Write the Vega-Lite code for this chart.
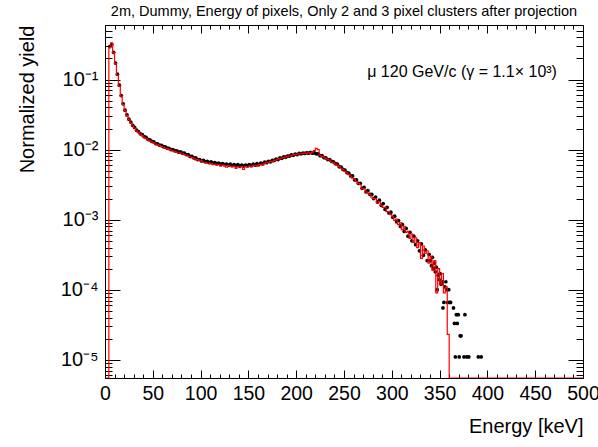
{
  "$schema": "https://vega.github.io/schema/vega-lite/v6.json",
  "width": 478,
  "height": 353,
  "autosize": "none",
  "padding": {"left": 105, "top": 25, "right": 15, "bottom": 69},
  "background": "white",
  "config": {
    "font": "Liberation Sans",
    "view": {"stroke": "black", "strokeWidth": 1},
    "axis": {"labelFont": "Liberation Sans", "titleFont": "Liberation Sans", "labelColor": "black", "titleColor": "black", "tickColor": "black", "tickWidth": 1, "domain": false, "grid": false, "labelOverlap": false, "labelFlush": false, "labelBound": false, "titleFontWeight": "normal"}
  },
  "title": {"text": "2m, Dummy, Energy of pixels, Only 2 and 3 pixel clusters after projection", "font": "Liberation Sans", "fontSize": 14.5, "fontWeight": "normal", "color": "black", "anchor": "middle", "frame": "group", "offset": 5},
  "resolve": {"axis": {"x": "independent", "y": "independent"}},
  "datasets": {
    "black": [
      {"e":5,"v":0.295},{"e":7,"v":0.315},{"e":9,"v":0.245},{"e":11,"v":0.172},{"e":13,"v":0.119},{"e":15,"v":0.083},{"e":17,"v":0.059},{"e":19,"v":0.045},
      {"e":21,"v":0.0365},{"e":23,"v":0.0312},{"e":25,"v":0.0272},{"e":27,"v":0.0247},{"e":29,"v":0.0222},{"e":31,"v":0.0207},{"e":33,"v":0.0189},{"e":35,"v":0.018},
      {"e":37,"v":0.0168},{"e":39,"v":0.0163},{"e":41,"v":0.0153},{"e":43,"v":0.0149},{"e":45,"v":0.014},{"e":47,"v":0.0138},{"e":49,"v":0.0131},{"e":51,"v":0.0129},
      {"e":53,"v":0.0122},{"e":55,"v":0.0121},{"e":57,"v":0.0116},{"e":59,"v":0.0115},{"e":61,"v":0.011},{"e":63,"v":0.0109},{"e":65,"v":0.0105},{"e":67,"v":0.0104},
      {"e":69,"v":0.01},{"e":71,"v":0.01},{"e":73,"v":0.0096},{"e":75,"v":0.0096},{"e":77,"v":0.0092},{"e":79,"v":0.0093},{"e":81,"v":0.0089},{"e":83,"v":0.0089},
      {"e":85,"v":0.0085},{"e":87,"v":0.0085},{"e":89,"v":0.008},{"e":91,"v":0.008},{"e":93,"v":0.0076},{"e":95,"v":0.0076},{"e":97,"v":0.0072},{"e":99,"v":0.0072},
      {"e":101,"v":0.0069},{"e":103,"v":0.007},{"e":105,"v":0.0067},{"e":107,"v":0.0068},{"e":109,"v":0.0065},{"e":111,"v":0.0067},{"e":113,"v":0.0064},{"e":115,"v":0.0065},
      {"e":117,"v":0.0063},{"e":119,"v":0.0064},{"e":121,"v":0.0062},{"e":123,"v":0.0063},{"e":125,"v":0.0061},{"e":127,"v":0.0062},{"e":129,"v":0.006},{"e":131,"v":0.0062},
      {"e":133,"v":0.0059},{"e":135,"v":0.0061},{"e":137,"v":0.0059},{"e":139,"v":0.0061},{"e":141,"v":0.0058},{"e":143,"v":0.006},{"e":145,"v":0.0058},{"e":147,"v":0.006},
      {"e":149,"v":0.0059},{"e":151,"v":0.0061},{"e":153,"v":0.0059},{"e":155,"v":0.0062},{"e":157,"v":0.006},{"e":159,"v":0.0063},{"e":161,"v":0.0061},{"e":163,"v":0.0064},
      {"e":165,"v":0.0063},{"e":167,"v":0.0066},{"e":169,"v":0.0065},{"e":171,"v":0.0068},{"e":173,"v":0.0067},{"e":175,"v":0.007},{"e":177,"v":0.007},{"e":179,"v":0.0073},
      {"e":181,"v":0.0072},{"e":183,"v":0.0076},{"e":185,"v":0.0075},{"e":187,"v":0.0079},{"e":189,"v":0.0078},{"e":191,"v":0.0081},{"e":193,"v":0.0081},{"e":195,"v":0.0084},
      {"e":197,"v":0.0083},{"e":199,"v":0.0086},{"e":201,"v":0.0085},{"e":203,"v":0.0088},{"e":205,"v":0.0087},{"e":207,"v":0.0089},{"e":209,"v":0.0088},{"e":211,"v":0.009},
      {"e":213,"v":0.0089},{"e":215,"v":0.0091},{"e":217,"v":0.0089},{"e":219,"v":0.009},{"e":221,"v":0.0087},{"e":223,"v":0.0087},{"e":225,"v":0.0082},{"e":227,"v":0.0082},
      {"e":229,"v":0.0077},{"e":231,"v":0.0076},{"e":233,"v":0.0072},{"e":235,"v":0.0072},{"e":237,"v":0.0068},{"e":239,"v":0.0067},{"e":241,"v":0.0063},{"e":243,"v":0.0062},
      {"e":245,"v":0.0057},{"e":247,"v":0.0056},{"e":249,"v":0.0052},{"e":251,"v":0.0051},{"e":253,"v":0.0047},{"e":255,"v":0.0046},{"e":257,"v":0.0042},{"e":259,"v":0.0042},
      {"e":261,"v":0.0037},{"e":263,"v":0.0037},{"e":265,"v":0.0033},{"e":267,"v":0.0033},{"e":269,"v":0.0028},{"e":271,"v":0.0029},{"e":273,"v":0.0025},{"e":275,"v":0.0026},
      {"e":277,"v":0.0023},{"e":279,"v":0.0023},{"e":281,"v":0.002},{"e":283,"v":0.0021},{"e":285,"v":0.0018},{"e":287,"v":0.0019},{"e":289,"v":0.0016},{"e":291,"v":0.0017},
      {"e":293,"v":0.0014},{"e":295,"v":0.0015},{"e":297,"v":0.00125},{"e":299,"v":0.00128},{"e":301,"v":0.00108},{"e":303,"v":0.00112},{"e":305,"v":0.00093},{"e":307,"v":0.00097},
      {"e":309,"v":0.0008},{"e":311,"v":0.00086},{"e":313,"v":0.00068},{"e":315,"v":0.00075},{"e":317,"v":0.00058},{"e":319,"v":0.00066},{"e":321,"v":0.0005},{"e":323,"v":0.00058},
      {"e":325,"v":0.00044},{"e":327,"v":0.0005},{"e":329,"v":0.00036},{"e":331,"v":0.00045},{"e":333,"v":0.00031},{"e":335,"v":0.00037},{"e":337,"v":0.00026},{"e":339,"v":0.00032}
    ],
    "tail": [
      {"e":340.5,"v":0.00026},{"e":341.5,"v":0.00022},{"e":342.5,"v":0.00029},{"e":343.5,"v":0.0002},{"e":344.5,"v":0.00024},{"e":345.5,"v":0.00018},{"e":346.5,"v":0.00021},
      {"e":347.5,"v":0.0001},{"e":348.5,"v":0.00016},{"e":349.5,"v":0.00014},{"e":350.5,"v":0.00017},{"e":351.5,"v":0.00012},{"e":352.5,"v":0.00013},{"e":353.5,"v":0.000055},
      {"e":354.5,"v":0.000066},{"e":355.5,"v":0.00011},{"e":356.5,"v":0.00013},{"e":357.5,"v":0.0001},{"e":358.5,"v":0.000066},{"e":359.5,"v":0.0001},{"e":360.5,"v":0.000066},
      {"e":361.5,"v":0.000066},{"e":364.5,"v":0.000055},{"e":365.5,"v":0.000033},{"e":366.5,"v":0.000011},{"e":367.5,"v":0.000044},{"e":368.5,"v":0.000033},{"e":369.5,"v":0.000044},
      {"e":370.5,"v":0.000011},{"e":371.5,"v":0.000022},{"e":372.5,"v":0.000022},{"e":375.5,"v":0.000011},{"e":376.5,"v":0.000044},{"e":378.5,"v":0.000011},{"e":380.5,"v":0.000011},
      {"e":390.5,"v":0.000011},{"e":393.5,"v":0.000011}
    ],
    "red": [
      {"e":0,"v":0.0000055},{"e":2,"v":0.0000055},{"e":4,"v":0.285},{"e":6,"v":0.335},{"e":8,"v":0.24},{"e":10,"v":0.168},{"e":12,"v":0.116},{"e":14,"v":0.081},
      {"e":16,"v":0.058},{"e":18,"v":0.044},{"e":20,"v":0.036},{"e":22,"v":0.0305},{"e":24,"v":0.027},{"e":26,"v":0.024},{"e":28,"v":0.0218},{"e":30,"v":0.0202},
      {"e":32,"v":0.0186},{"e":34,"v":0.0176},{"e":36,"v":0.0166},{"e":38,"v":0.0158},{"e":40,"v":0.015},{"e":42,"v":0.0143},{"e":44,"v":0.0138},{"e":46,"v":0.0133},
      {"e":48,"v":0.0128},{"e":50,"v":0.0125},{"e":52,"v":0.012},{"e":54,"v":0.0117},{"e":56,"v":0.0114},{"e":58,"v":0.011},{"e":60,"v":0.0108},{"e":62,"v":0.0105},
      {"e":64,"v":0.0103},{"e":66,"v":0.01},{"e":68,"v":0.0098},{"e":70,"v":0.0096},{"e":72,"v":0.0094},{"e":74,"v":0.0092},{"e":76,"v":0.009},{"e":78,"v":0.0089},
      {"e":80,"v":0.0087},{"e":82,"v":0.0085},{"e":84,"v":0.0083},{"e":86,"v":0.0081},{"e":88,"v":0.0079},{"e":90,"v":0.0077},{"e":92,"v":0.0075},{"e":94,"v":0.0071},
      {"e":96,"v":0.0072},{"e":98,"v":0.007},{"e":100,"v":0.0069},{"e":102,"v":0.0066},{"e":104,"v":0.0066},{"e":106,"v":0.0064},{"e":108,"v":0.0064},{"e":110,"v":0.0063},
      {"e":112,"v":0.0061},{"e":114,"v":0.0062},{"e":116,"v":0.006},{"e":118,"v":0.0061},{"e":120,"v":0.0058},{"e":122,"v":0.006},{"e":124,"v":0.0059},{"e":126,"v":0.0056},
      {"e":128,"v":0.0059},{"e":130,"v":0.0058},{"e":132,"v":0.0057},{"e":134,"v":0.0058},{"e":136,"v":0.0054},{"e":138,"v":0.0057},{"e":140,"v":0.0056},{"e":142,"v":0.0057},
      {"e":144,"v":0.0052},{"e":146,"v":0.0057},{"e":148,"v":0.0056},{"e":150,"v":0.0058},{"e":152,"v":0.0057},{"e":154,"v":0.0059},{"e":156,"v":0.0059},{"e":158,"v":0.0058},
      {"e":160,"v":0.0061},{"e":162,"v":0.0062},{"e":164,"v":0.006},{"e":166,"v":0.0064},{"e":168,"v":0.0065},{"e":170,"v":0.0066},{"e":172,"v":0.0068},{"e":174,"v":0.0067},
      {"e":176,"v":0.007},{"e":178,"v":0.0071},{"e":180,"v":0.0073},{"e":182,"v":0.0074},{"e":184,"v":0.0076},{"e":186,"v":0.0077},{"e":188,"v":0.0078},{"e":190,"v":0.008},
      {"e":192,"v":0.0081},{"e":194,"v":0.0082},{"e":196,"v":0.0084},{"e":198,"v":0.0085},{"e":200,"v":0.0086},{"e":202,"v":0.0087},{"e":204,"v":0.0087},{"e":206,"v":0.0088},
      {"e":208,"v":0.0089},{"e":210,"v":0.0088},{"e":212,"v":0.009},{"e":214,"v":0.0089},{"e":216,"v":0.0092},{"e":218,"v":0.0097},{"e":220,"v":0.0104},{"e":222,"v":0.01},
      {"e":224,"v":0.0083},{"e":226,"v":0.008},{"e":228,"v":0.0078},{"e":230,"v":0.0075},{"e":232,"v":0.0072},{"e":234,"v":0.0071},{"e":236,"v":0.0067},{"e":238,"v":0.0066},
      {"e":240,"v":0.0062},{"e":242,"v":0.006},{"e":244,"v":0.0057},{"e":246,"v":0.0054},{"e":248,"v":0.0052},{"e":250,"v":0.0049},{"e":252,"v":0.0047},{"e":254,"v":0.0044},
      {"e":256,"v":0.0042},{"e":258,"v":0.0039},{"e":260,"v":0.0038},{"e":262,"v":0.0035},{"e":264,"v":0.0033},{"e":266,"v":0.0032},{"e":268,"v":0.0028},{"e":270,"v":0.0028},
      {"e":272,"v":0.0025},{"e":274,"v":0.0024},{"e":276,"v":0.0023},{"e":278,"v":0.0021},{"e":280,"v":0.002},{"e":282,"v":0.002},{"e":284,"v":0.0017},{"e":286,"v":0.0018},
      {"e":288,"v":0.0016},{"e":290,"v":0.0015},{"e":292,"v":0.0015},{"e":294,"v":0.0013},{"e":296,"v":0.0013},{"e":298,"v":0.00118},{"e":300,"v":0.0011},{"e":302,"v":0.00098},
      {"e":304,"v":0.00102},{"e":306,"v":0.00085},{"e":308,"v":0.0009},{"e":310,"v":0.00072},{"e":312,"v":0.0008},{"e":314,"v":0.00066},{"e":316,"v":0.00068},{"e":318,"v":0.00054},
      {"e":320,"v":0.00062},{"e":322,"v":0.00047},{"e":324,"v":0.00055},{"e":326,"v":0.0004},{"e":328,"v":0.00047},{"e":330,"v":0.00028},{"e":332,"v":0.00042},{"e":334,"v":0.00033},
      {"e":336,"v":0.00036},{"e":338,"v":0.00024},{"e":340,"v":0.0003},{"e":342,"v":0.00019},{"e":344,"v":0.00026},{"e":346,"v":0.00009},{"e":348,"v":0.0002},{"e":350,"v":0.00012},
      {"e":352,"v":0.00017},{"e":354,"v":0.00009},{"e":356,"v":0.00011},{"e":358,"v":0.000023},{"e":360,"v":0.0000055},{"e":500,"v":0.0000055}
    ],
    "note": [{"e":373.5,"v":0.128,"label":"μ 120 GeV/c (γ = 1.1× 10³)"}]
  },
  "layer": [
    {
      "data": {"name": "black"},
      "mark": {"type": "point", "filled": true, "color": "black", "size": 14, "opacity": 1, "clip": true},
      "encoding": {
        "x": {"field": "e", "type": "quantitative", "scale": {"domain": [0, 500], "nice": false, "zero": false},
          "axis": {"orient": "top", "values": [0,50,100,150,200,250,300,350,400,450,500], "labels": false, "title": null, "tickSize": -8}},
        "y": {"field": "v", "type": "quantitative", "scale": {"type": "log", "domain": [0.0000055, 0.6], "nice": false},
          "axis": {"orient": "right", "values": [0.00001,0.0001,0.001,0.01,0.1], "labels": false, "title": null, "tickSize": -15}}
      }
    },
    {
      "data": {"name": "tail"},
      "mark": {"type": "point", "filled": true, "color": "black", "size": 14, "opacity": 1, "clip": true},
      "encoding": {
        "x": {"field": "e", "type": "quantitative", "scale": {"domain": [0, 500], "nice": false, "zero": false},
          "axis": {"orient": "top", "values": [10,20,30,40,60,70,80,90,110,120,130,140,160,170,180,190,210,220,230,240,260,270,280,290,310,320,330,340,360,370,380,390,410,420,430,440,460,470,480,490], "labels": false, "title": null, "tickSize": -4}},
        "y": {"field": "v", "type": "quantitative", "scale": {"type": "log", "domain": [0.0000055, 0.6], "nice": false},
          "axis": {"orient": "right", "values": [0.000006,0.000007,0.000008,0.000009,0.00002,0.00003,0.00004,0.00005,0.00006,0.00007,0.00008,0.00009,0.0002,0.0003,0.0004,0.0005,0.0006,0.0007,0.0008,0.0009,0.002,0.003,0.004,0.005,0.006,0.007,0.008,0.009,0.02,0.03,0.04,0.05,0.06,0.07,0.08,0.09,0.2,0.3,0.4,0.5], "labels": false, "title": null, "tickSize": -7}}
      }
    },
    {
      "data": {"name": "red"},
      "mark": {"type": "line", "interpolate": "step-after", "color": "#ff0000", "strokeWidth": 1.2, "clip": true},
      "encoding": {
        "x": {"field": "e", "type": "quantitative", "scale": {"domain": [0, 500], "nice": false, "zero": false},
          "axis": {"orient": "bottom", "values": [0,50,100,150,200,250,300,350,400,450,500],
            "tickSize": -8, "labelFontSize": 19.5, "labelPadding": 14,
            "title": "Energy [keV]", "titleFontSize": 20, "titleAnchor": "end", "titleAlign": "right", "titleX": 478, "titleY": 54, "titleBaseline": "alphabetic"}},
        "y": {"field": "v", "type": "quantitative", "scale": {"type": "log", "domain": [0.0000055, 0.6], "nice": false},
          "axis": {"orient": "left", "values": [0.00001,0.0001,0.001,0.01,0.1],
            "tickSize": -15,
            "labelExpr": "'10' + ['⁰','⁻¹','⁻²','⁻³','⁻⁴','⁻⁵','⁻⁶'][-round(log(datum.value)/LN10)]",
            "labelFontSize": 20, "labelPadding": 22,
            "title": "Normalized yield", "titleFontSize": 20, "titleAnchor": "end", "titleAlign": "right", "titleAngle": -90, "titleX": -78, "titleY": 0, "titleBaseline": "middle"}}
      }
    },
    {
      "data": {"name": "note"},
      "mark": {"type": "text", "font": "Liberation Sans", "fontSize": 16, "align": "center", "baseline": "middle", "color": "black"},
      "encoding": {
        "x": {"field": "e", "type": "quantitative", "scale": {"domain": [0, 500], "nice": false, "zero": false},
          "axis": {"orient": "bottom", "values": [10,20,30,40,60,70,80,90,110,120,130,140,160,170,180,190,210,220,230,240,260,270,280,290,310,320,330,340,360,370,380,390,410,420,430,440,460,470,480,490], "labels": false, "title": null, "tickSize": -4}},
        "y": {"field": "v", "type": "quantitative", "scale": {"type": "log", "domain": [0.0000055, 0.6], "nice": false},
          "axis": {"orient": "left", "values": [0.000006,0.000007,0.000008,0.000009,0.00002,0.00003,0.00004,0.00005,0.00006,0.00007,0.00008,0.00009,0.0002,0.0003,0.0004,0.0005,0.0006,0.0007,0.0008,0.0009,0.002,0.003,0.004,0.005,0.006,0.007,0.008,0.009,0.02,0.03,0.04,0.05,0.06,0.07,0.08,0.09,0.2,0.3,0.4,0.5], "labels": false, "title": null, "tickSize": -7}},
        "text": {"field": "label"}
      }
    }
  ]
}
